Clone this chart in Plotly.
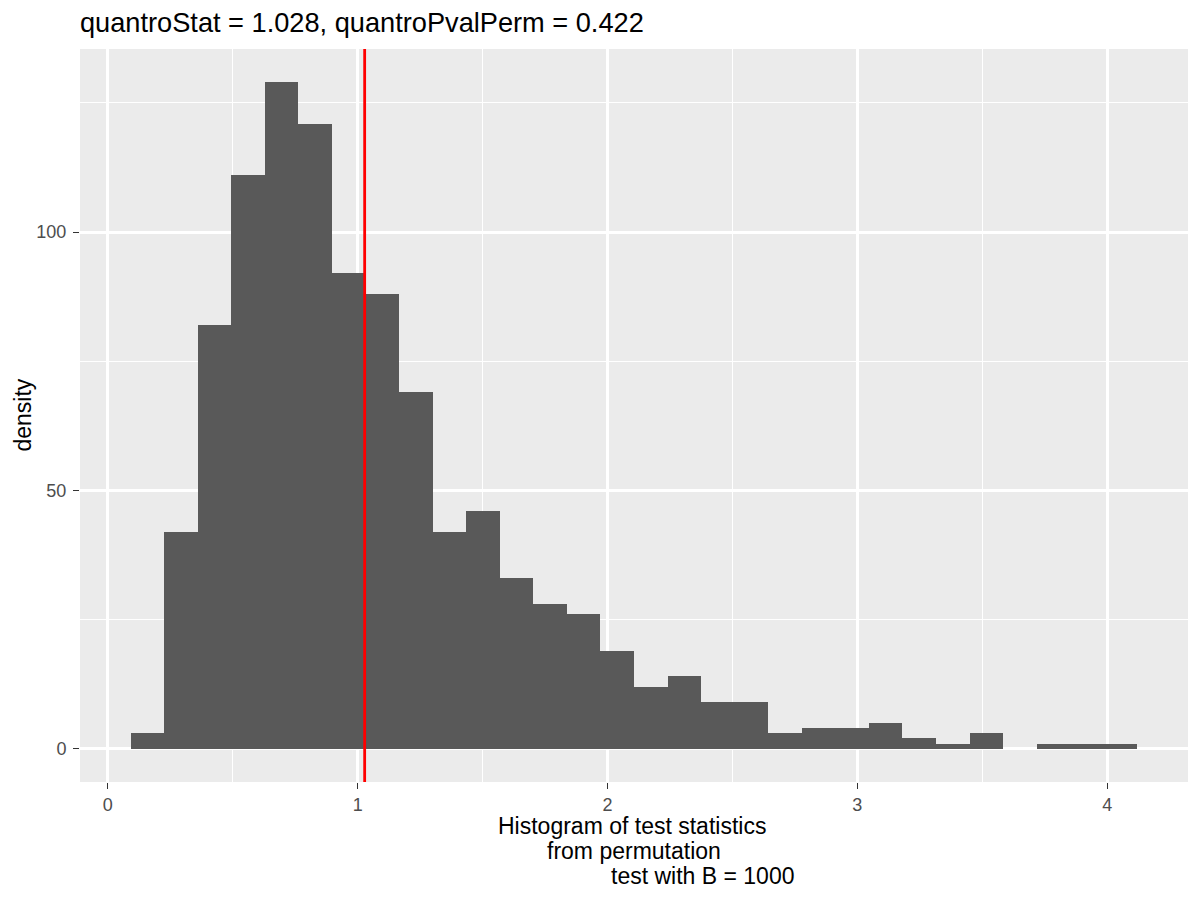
import plotly.graph_objects as go

# histogram of permutation test statistics (30 bins)
bin_left = 0.0915
bin_width = 0.1343
counts = [3, 42, 82, 111, 129, 121, 92, 88, 69, 42,
          46, 33, 28, 26, 19, 12, 14, 9, 9, 3,
          4, 4, 5, 2, 1, 3, 0, 1, 1, 1]
quantro_stat = 1.028
quantro_pval = 0.422
B = 1000

x_ticks = [0, 1, 2, 3, 4]
y_ticks = [0, 50, 100]

centers = [bin_left + bin_width * (i + 0.5) for i in range(len(counts))]

FONT = "Liberation Sans"
OFF = 8  # the page body adds an 8px margin, so the figure is shrunk by it
W, H = 1200 - OFF, 900 - OFF
L, R, T, Bm = 80 - OFF, 12, 49 - OFF, 118
plot_h = H - T - Bm
plot_w = W - L - R

fig = go.Figure()
fig.add_trace(go.Bar(
    x=centers, y=counts, width=bin_width,
    marker=dict(color="#595959", line=dict(width=0)),
    showlegend=False, hoverinfo="skip"))

fig.add_shape(type="line", xref="x", yref="paper",
              x0=quantro_stat, x1=quantro_stat, y0=0, y1=1,
              line=dict(color="#FF0000", width=2.8), layer="above")

xlab_lines = ["Histogram of test statistics", "from permutation",
              "test with B = {}".format(B)]
xlab_centers = [631.5, 633.5, 702]   # pixel centres in the original page
xlab_ys = [826, 851, 875.5]
for txt, cx, cy in zip(xlab_lines, xlab_centers, xlab_ys):
    fig.add_annotation(text=txt, xref="paper", yref="paper",
                       x=(cx - OFF - L) / plot_w, y=(H - Bm - (cy - OFF)) / plot_h,
                       xanchor="center", yanchor="middle", showarrow=False,
                       font=dict(family=FONT, size=23, color="black"))

fig.add_annotation(text="density", xref="paper", yref="paper",
                   x=(22 - OFF - L) / plot_w, y=0.5, textangle=-90,
                   xanchor="center", yanchor="middle", showarrow=False,
                   font=dict(family=FONT, size=23, color="black"))

grid_minor = dict(showgrid=True, gridcolor="white", gridwidth=1.4, ticks="")

fig.update_layout(
    width=W, height=H,
    margin=dict(l=L, r=R, t=T, b=Bm, pad=0),
    paper_bgcolor="white", plot_bgcolor="#EBEBEB",
    bargap=0,
    font=dict(family=FONT),
    title=dict(text="quantroStat = {}, quantroPvalPerm = {}".format(quantro_stat, quantro_pval),
               x=L / W, xref="container", xanchor="left",
               y=1 - (22 - OFF) / H, yref="container", yanchor="middle",
               font=dict(family=FONT, size=27.2, color="black")),
    xaxis=dict(range=[-0.1114, 4.3236], tickvals=x_ticks, showgrid=True,
               gridcolor="white", gridwidth=2.7, zeroline=False,
               ticks="outside", ticklen=6, tickwidth=1.2, tickcolor="#333333",
               tickfont=dict(family=FONT, size=18, color="#4D4D4D"),
               minor=dict(dtick=0.5, tick0=0, **grid_minor), showline=False),
    yaxis=dict(range=[-6.45, 135.45], tickvals=y_ticks, showgrid=True,
               gridcolor="white", gridwidth=2.7, zeroline=False,
               ticks="outside", ticklen=6, tickwidth=1.2, tickcolor="#333333",
               tickfont=dict(family=FONT, size=18, color="#4D4D4D"),
               ticklabelstandoff=3,
               minor=dict(dtick=25, tick0=0, **grid_minor), showline=False),
)

fig.write_html("out.html")
